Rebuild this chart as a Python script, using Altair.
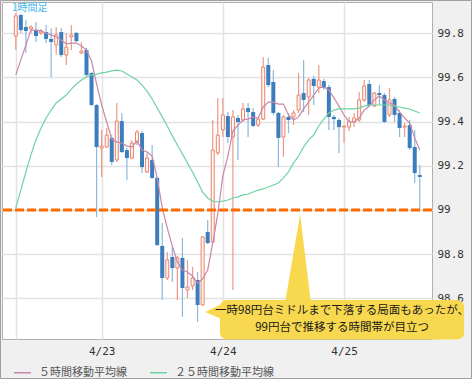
import altair as alt
import pandas as pd

# ---------------- data ----------------
hours = list(range(81))
opens = [99.787, 99.882, 99.828, 99.819, 99.814, 99.801, 99.805, 99.774, 99.746, 99.805,
         99.701, 99.783, 99.801, 99.710, 99.724, 99.620, 99.475, 99.280, 99.285, 99.326,
         99.226, 99.402, 99.271, 99.235, 99.307, 99.348, 99.172, 99.226, 99.145, 98.837,
         98.692, 98.787, 98.737, 98.783, 98.638, 98.656, 98.683, 98.570, 98.900, 98.855,
         99.258, 99.362, 99.425, 99.330, 99.416, 99.407, 99.461, 99.443, 99.384, 99.411,
         99.656, 99.579, 99.439, 99.330, 99.421, 99.421, 99.452, 99.529, 99.511, 99.593,
         99.556, 99.583, 99.556, 99.421, 99.407, 99.375, 99.375, 99.398, 99.407, 99.498,
         99.570, 99.470, 99.529, 99.520, 99.430, 99.502, 99.439, 99.375, 99.384, 99.285,
         99.158]
highs = [99.891, 99.887, 99.860, 99.837, 99.850, 99.819, 99.837, 99.823, 99.828, 99.823,
         99.801, 99.837, 99.805, 99.760, 99.733, 99.624, 99.479, 99.362, 99.371, 99.339,
         99.484, 99.439, 99.280, 99.317, 99.362, 99.357, 99.258, 99.294, 99.149, 98.941,
         98.810, 98.832, 98.792, 98.873, 98.774, 98.742, 98.719, 98.882, 98.954, 99.407,
         99.507, 99.507, 99.443, 99.452, 99.430, 99.484, 99.484, 99.461, 99.421, 99.692,
         99.688, 99.633, 99.443, 99.430, 99.439, 99.452, 99.620, 99.679, 99.597, 99.606,
         99.656, 99.593, 99.565, 99.430, 99.416, 99.384, 99.421, 99.439, 99.534, 99.588,
         99.588, 99.534, 99.565, 99.529, 99.552, 99.511, 99.452, 99.393, 99.407, 99.362,
         99.203]
lows = [99.724, 99.801, 99.710, 99.801, 99.760, 99.792, 99.755, 99.602, 99.701, 99.692,
        99.656, 99.724, 99.760, 99.706, 99.606, 99.470, 98.968, 99.149, 99.280, 99.203,
        99.217, 99.258, 99.136, 99.231, 99.294, 99.167, 99.167, 99.140, 98.837, 98.593,
        98.683, 98.674, 98.593, 98.516, 98.602, 98.638, 98.493, 98.565, 98.846, 98.850,
        99.249, 99.330, 99.303, 98.638, 99.226, 99.398, 99.330, 99.375, 99.375, 99.407,
        99.556, 99.430, 99.194, 99.240, 99.348, 99.384, 99.439, 99.443, 99.430, 99.475,
        99.529, 99.543, 99.362, 99.362, 99.258, 99.303, 99.357, 99.375, 99.398, 99.488,
        99.466, 99.466, 99.475, 99.393, 99.421, 99.398, 99.330, 99.330, 99.271, 99.122,
        99.000]
closes = [99.878, 99.814, 99.810, 99.828, 99.787, 99.810, 99.774, 99.760, 99.792, 99.701,
          99.737, 99.792, 99.764, 99.719, 99.611, 99.475, 99.285, 99.289, 99.339, 99.217,
          99.402, 99.262, 99.235, 99.303, 99.353, 99.194, 99.235, 99.145, 98.841, 98.692,
          98.774, 98.737, 98.783, 98.647, 98.651, 98.692, 98.570, 98.878, 98.850, 99.271,
          99.339, 99.430, 99.330, 99.421, 99.398, 99.457, 99.443, 99.380, 99.411, 99.647,
          99.565, 99.439, 99.326, 99.421, 99.407, 99.439, 99.520, 99.498, 99.588, 99.561,
          99.588, 99.552, 99.421, 99.411, 99.375, 99.380, 99.402, 99.416, 99.498, 99.561,
          99.475, 99.529, 99.520, 99.398, 99.498, 99.430, 99.371, 99.380, 99.280, 99.167,
          99.149]
ma5 = [99.611, 99.679, 99.746, 99.814, 99.814, 99.810, 99.801, 99.792, 99.783, 99.769,
       99.751, 99.755, 99.755, 99.742, 99.724, 99.674, 99.570, 99.475, 99.398, 99.321,
       99.307, 99.303, 99.289, 99.285, 99.312, 99.271, 99.262, 99.244, 99.145, 99.009,
       98.918, 98.837, 98.764, 98.728, 98.719, 98.701, 98.669, 98.688, 98.728, 98.850,
       98.982, 99.154, 99.244, 99.357, 99.384, 99.407, 99.411, 99.421, 99.416, 99.466,
       99.488, 99.488, 99.479, 99.479, 99.430, 99.407, 99.421, 99.457, 99.488, 99.520,
       99.552, 99.556, 99.543, 99.507, 99.470, 99.430, 99.398, 99.398, 99.416, 99.452,
       99.470, 99.498, 99.516, 99.498, 99.484, 99.475, 99.443, 99.416, 99.393, 99.326,
       99.271]
ma25 = [99.009, 99.090, 99.172, 99.249, 99.317, 99.371, 99.416, 99.452, 99.484, 99.502,
        99.520, 99.547, 99.570, 99.588, 99.602, 99.611, 99.615, 99.620, 99.624, 99.629,
        99.633, 99.629, 99.615, 99.602, 99.588, 99.565, 99.538, 99.502, 99.461, 99.421,
        99.380, 99.335, 99.294, 99.253, 99.212, 99.172, 99.126, 99.081, 99.054, 99.040,
        99.036, 99.040, 99.045, 99.054, 99.059, 99.068, 99.072, 99.081, 99.090, 99.095,
        99.104, 99.113, 99.122, 99.145, 99.172, 99.212, 99.244, 99.285, 99.317, 99.339,
        99.380, 99.411, 99.439, 99.452, 99.457, 99.457, 99.457, 99.457, 99.461, 99.470,
        99.475, 99.475, 99.475, 99.475, 99.475, 99.470, 99.466, 99.461, 99.457, 99.448,
        99.439]

y_ticks = [98.6, 98.8, 99.0, 99.2, 99.4, 99.6, 99.8]
grid_x = [0, 17, 41, 65]
day_ticks = [17, 41, 65]
day_labels = ["4/23", "4/24", "4/25"]
level = [99.0]
series_names = ["５時間移動平均線", "２５時間移動平均線"]
frame_label = "1時間足"
callout_lines = ["一時98円台ミドルまで下落する局面もあったが、", "99円台で推移する時間帯が目立つ"]

# ---------------- tables ----------------
candles = pd.DataFrame({"h": hours, "open": opens, "high": highs, "low": lows, "close": closes})
candles["up"] = candles["close"] >= candles["open"]
up_df = candles[candles["up"]]
dn_df = candles[~candles["up"]]

ma_df = pd.concat([
    pd.DataFrame({"h": hours, "v": ma5, "series": series_names[0]}),
    pd.DataFrame({"h": hours, "v": ma25, "series": series_names[1]}),
])

label_expr = " : ".join(
    [f"datum.value == {t} ? '{l}'" for t, l in zip(day_ticks, day_labels)]
) + " : ''"

W, H = 430, 337
xs = alt.Scale(domain=[-1.74, 81.43], nice=False, zero=False)
ys = alt.Scale(domain=[98.416, 99.941], nice=False, zero=False)

x_axis = alt.Axis(values=grid_x, labelExpr=label_expr, title=None, grid=True,
                  labelFont="DejaVu Sans Mono", labelFontSize=11, labelColor="#333",
                  labelPadding=6, domain=False, ticks=False, labelFlush=False)
y_axis = alt.Axis(values=y_ticks, format=".3~g", orient="right", title=None, grid=True,
                  labelFont="DejaVu Sans Mono", labelFontSize=11, labelColor="#333",
                  labelPadding=5, domain=False, ticks=False, labelFlush=False)


def X(field):
    return alt.X(field, type="quantitative", scale=xs, axis=x_axis)


def Y(field):
    return alt.Y(field, type="quantitative", scale=ys, axis=y_axis)


UP_LINE = "#e9846c"
UP_WICK = "#ee9784"
DN_FILL = "#3b7dbd"
DN_WICK = "#8ab8e0"

up_wick = alt.Chart(up_df).mark_rule(color=UP_WICK, strokeWidth=1.2).encode(
    x=X("h"), y=Y("low"), y2="high")
dn_wick = alt.Chart(dn_df).mark_rule(color=DN_WICK, strokeWidth=1.2).encode(
    x=X("h"), y=Y("low"), y2="high")
up_body = alt.Chart(up_df).mark_bar(width=3, fill="#fff4f0", stroke=UP_LINE, strokeWidth=1).encode(
    x=X("h"), y=Y("open"), y2="close")
dn_body = alt.Chart(dn_df).mark_bar(width=4, color=DN_FILL).encode(
    x=X("h"), y=Y("open"), y2="close")

ma_lines = alt.Chart(ma_df).mark_line(strokeWidth=1.2).encode(
    x=X("h"), y=Y("v"),
    color=alt.Color("series:N",
                    scale=alt.Scale(domain=series_names, range=["#c987a8", "#6dd3a0"]),
                    sort=series_names,
                    legend=alt.Legend(title=None, orient="none", legendX=11, legendY=361,
                                      direction="horizontal", symbolType="stroke",
                                      symbolSize=289, symbolStrokeWidth=1.5,
                                      labelFont="Noto Sans CJK JP", labelFontSize=11,
                                      labelColor="#555", columnPadding=20, labelOffset=7,
                                      padding=0)),
    order=alt.Order("h:Q"))

level_rule = alt.Chart(pd.DataFrame({"lv": level})).mark_rule(
    color="#ff6a00", strokeWidth=3, strokeDash=[9, 3]).encode(y=Y("lv"))

# callout (positioned in data coordinates)
box = alt.Chart(pd.DataFrame({"x0": [40.43], "x1": [88.78], "y0": [98.593], "y1": [98.414]})).mark_rect(
    color="#f7d84f", cornerRadius=7).encode(x=X("x0"), x2="x1", y=Y("y0"), y2="y1")
tri_up = alt.Chart(pd.DataFrame({"tx": [53.4, 56.3, 58.4], "ty": [98.590, 98.980, 98.590],
                                 "tb": [98.590, 98.590, 98.590]})).mark_area(
    color="#f7d84f", opacity=1).encode(x=X("tx"), y=Y("ty"), y2="tb")
tri_left = alt.Chart(pd.DataFrame({"ty": [98.579, 98.538, 98.502], "tx": [41.2, 37.5, 41.2],
                                   "tb": [41.2, 41.2, 41.2]})).mark_area(
    color="#f7d84f", opacity=1, orient="horizontal").encode(y=Y("ty"), x=X("tx"), x2="tb")
callout_text = alt.Chart(pd.DataFrame({"tx": [64.6, 64.6], "ty": [98.542, 98.466],
                                       "t": callout_lines})).mark_text(
    font="Noto Sans CJK JP", fontSize=11.5, color="#1a1a1a", align="center",
    baseline="middle").encode(x=X("tx"), y=Y("ty"), text="t:N")

frame_text = alt.Chart(pd.DataFrame({"t": [frame_label]})).mark_text(
    font="Noto Sans CJK JP", fontSize=10, color="#3fb5ea", align="left", baseline="top").encode(
    x=alt.value(10), y=alt.value(1), text="t:N")

outer = alt.Chart(pd.DataFrame({"a": [0]})).mark_rect(
    fill="transparent", stroke="#a0a0a0", strokeWidth=1).encode(
    x=alt.value(-1.5), x2=alt.value(469.5), y=alt.value(-1.5), y2=alt.value(376.5))

chart = alt.layer(
    up_wick, dn_wick, up_body, dn_body, ma_lines, level_rule,
    tri_up, tri_left, box, callout_text, frame_text, outer
).properties(
    width=W, height=H,
    padding={"left": 2, "top": 2, "right": 40, "bottom": 40},
    autosize=alt.AutoSizeParams(type="none"),
    background="#f0f0f0",
).configure_view(
    fill="white", stroke="#b0b0b0", strokeWidth=1
).configure_axis(
    gridColor="#e2e2e2", gridWidth=1.5
)

chart.save("out.html", embed_options={"renderer": "svg", "actions": False})
